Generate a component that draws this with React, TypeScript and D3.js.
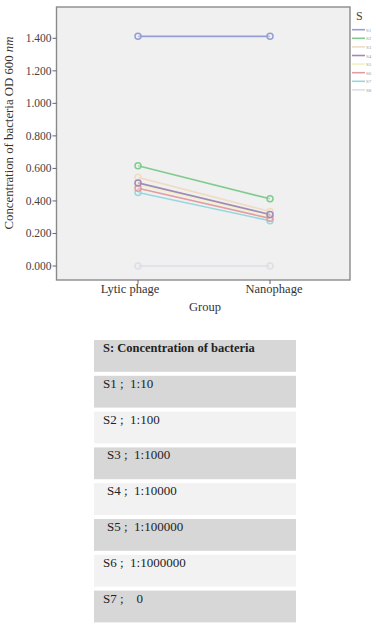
import React from "react";
import * as d3 from "d3";

const groups = ["Lytic phage", "Nanophage"];
const seriesNames = ["S1", "S2", "S3", "S4", "S5", "S6", "S7", "S8"];
const lyticValues = [1.412, 0.616, 0.545, 0.511, 0.5, 0.478, 0.452, 0.0];
const nanoValues = [1.412, 0.413, 0.335, 0.317, 0.31, 0.293, 0.278, 0.0];
const seriesColors = ["#959ed4", "#80cc8e", "#f0dcc4", "#a08ab8", "#f2f0c4", "#e39ca0", "#94d8de", "#dedee6"];
const yTicks = [0, 0.2, 0.4, 0.6, 0.8, 1.0, 1.2, 1.4];
const tableHeader = "S: Concentration of bacteria";
const tableRows = ["S1 ;  1:10", "S2 ;  1:100", "S3 ;  1:1000", "S4 ;  1:10000", "S5 ;  1:100000", "S6 ;  1:1000000", "S7 ;    0"];
const tableIndent = [0, 0, 4, 4, 4, 0, 0];

const FONT = "Times New Roman, Liberation Serif, Times, serif";

export default function App() {
  const W = 376, H = 624;
  const frame = { x0: 56.5, x1: 350, y0: 7, y1: 280 };
  const y = d3.scaleLinear().domain([0, 1.4]).range([266, 38.3]);
  const x = d3.scalePoint<string>().domain(groups).range([138, 270]);
  const line = d3.line<[string, number]>().x(d => x(d[0]) as number).y(d => y(d[1]));
  const labelShift = [-8, 4];

  const drawOrder = [7, 0, 2, 4, 6, 5, 3, 1];

  const tableX0 = 94, tableX1 = 296;
  const rowTop = d3.scaleLinear().domain([0, 1]).range([340, 375.8]);

  return (
    <svg width={W} height={H} style={{ position: "absolute", left: 0, top: 0, fontFamily: FONT }}>
      <rect x={0} y={0} width={W} height={H} fill="#ffffff" />
      <rect x={frame.x0} y={frame.y0} width={frame.x1 - frame.x0} height={frame.y1 - frame.y0}
        fill="#f0f0f0" stroke="#8a8a8a" strokeWidth={1.4} />
      {yTicks.map(t => (
        <g key={t}>
          <line x1={frame.x0 - 4} x2={frame.x0} y1={y(t)} y2={y(t)} stroke="#666" strokeWidth={1} />
          <text x={frame.x0 - 5} y={y(t) + 4} textAnchor="end" fontSize={11.5} fill="#444">{d3.format(".3f")(t)}</text>
        </g>
      ))}
      {groups.map((g, i) => (
        <g key={g}>
          <line x1={x(g)} x2={x(g)} y1={frame.y1} y2={frame.y1 + 4} stroke="#666" strokeWidth={1} />
          <text x={(x(g) as number) + labelShift[i]} y={293} textAnchor="middle" fontSize={12.5} fill="#333">{g}</text>
        </g>
      ))}
      <text x={205} y={311} textAnchor="middle" fontSize={12.5} fill="#333">Group</text>
      <text transform={`translate(13,133) rotate(-90)`} textAnchor="middle" fontSize={12.8} fill="#333">
        Concentration of bacteria OD 600 <tspan fontStyle="italic">nm</tspan>
      </text>
      {drawOrder.map(i => {
        const pts: [string, number][] = [[groups[0], lyticValues[i]], [groups[1], nanoValues[i]]];
        return (
          <g key={seriesNames[i]}>
            <path d={line(pts) as string} fill="none" stroke={seriesColors[i]} strokeWidth={1.6} />
            {pts.map((p, j) => (
              <circle key={j} cx={x(p[0])} cy={y(p[1])} r={3} fill="#f0f0f0" fillOpacity={0.4}
                stroke={seriesColors[i]} strokeWidth={1.5} />
            ))}
          </g>
        );
      })}
      <text x={356} y={20} fontSize={12} fill="#444">S</text>
      {seriesNames.map((s, i) => {
        const ly = 29.7 + i * 8.6;
        return (
          <g key={s}>
            <line x1={352} x2={365} y1={ly} y2={ly} stroke={seriesColors[i]} strokeWidth={1.6} />
            <text x={366} y={ly + 2} fontSize={5} fill="#999">{s}</text>
          </g>
        );
      })}
      {[tableHeader, ...tableRows].map((r, i) => {
        const top = rowTop(i);
        const fill = i === 0 || i % 2 === 1 ? "#d7d7d7" : "#f2f2f2";
        return (
          <g key={i}>
            <rect x={tableX0} y={top} width={tableX1 - tableX0} height={31.8} fill={fill} />
            <text x={tableX0 + 9 + (i === 0 ? 0 : tableIndent[i - 1])} y={top + 12} fontSize={i === 0 ? 12.5 : 13}
              fontWeight={i === 0 ? "bold" : "normal"} fill="#222" style={{ whiteSpace: "pre" }}>{r}</text>
          </g>
        );
      })}
    </svg>
  );
}
